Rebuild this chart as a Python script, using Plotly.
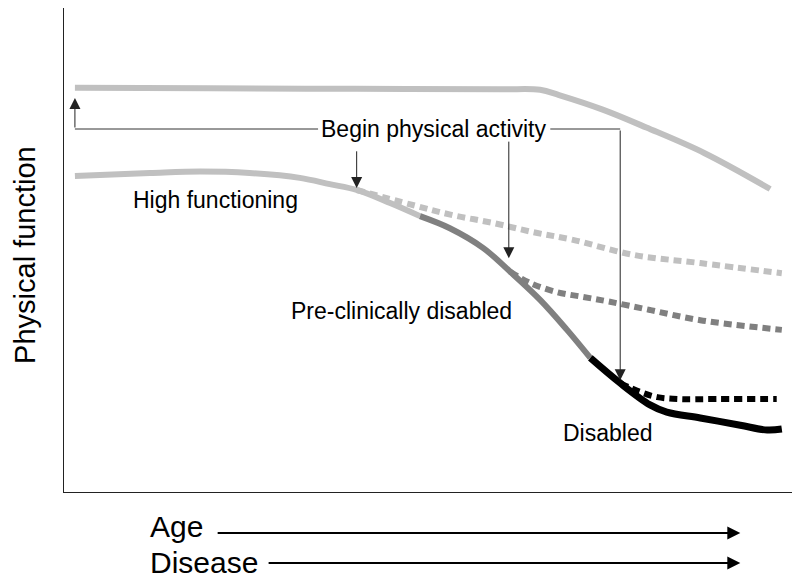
import plotly.graph_objects as go

# x: age / disease progression (0-100), y: physical function (0-100)
top_x = [1.5, 20, 40, 60, 65.4, 68, 74, 80, 88, 97]
top_y = [83.5, 83.4, 83.3, 83.2, 83.1, 82.0, 79.0, 75.3, 70.0, 62.6]

high_x = [1.5, 11.8, 18.7, 25.5, 32.4, 36.5, 40.2, 44.8, 48.9]
high_y = [65.3, 65.9, 66.2, 65.9, 64.9, 63.6, 62.4, 59.7, 57.0]

pre_x = [48.9, 53.0, 57.6, 61.3, 65.4, 69.1, 72.3]
pre_y = [57.0, 54.5, 50.4, 45.5, 39.7, 33.5, 27.7]

dis_x = [72.3, 76.4, 80.5, 82.8, 87.4, 92.9, 96.6, 98.6]
dis_y = [27.7, 22.5, 18.0, 16.5, 15.3, 13.8, 12.8, 13.0]

# trajectories after beginning physical activity
pa_high_x = [40.2, 47.9, 53.4, 58.9, 64.4, 69.9, 78.2, 87.4, 98.6]
pa_high_y = [62.4, 59.3, 57.2, 55.6, 53.7, 52.1, 49.0, 47.3, 45.2]

pa_pre_x = [61.3, 64.0, 67.7, 71.3, 75.0, 80.5, 87.4, 98.6]
pa_pre_y = [45.5, 43.2, 41.3, 40.3, 39.3, 37.6, 35.5, 33.5]

pa_dis_x = [76.4, 79.1, 81.5, 84.6, 89.7, 97.9]
pa_dis_y = [22.5, 20.7, 19.6, 19.2, 19.2, 19.2]

LIGHT = '#c0c0c0'
DARK = '#808080'
FONT = 'Arial, Liberation Sans, sans-serif'
DOT = '8px,5px'

fig = go.Figure()

def add_line(x, y, color, dash='solid', width=6):
    fig.add_trace(go.Scatter(x=x, y=y, mode='lines',
                             line=dict(color=color, width=width, dash=dash, shape='spline'),
                             hoverinfo='skip', showlegend=False))

add_line(top_x, top_y, LIGHT)
add_line(pa_high_x, pa_high_y, LIGHT, DOT)
add_line(pa_pre_x, pa_pre_y, DARK, DOT)
add_line(pa_dis_x, pa_dis_y, 'black', DOT)
add_line(high_x, high_y, LIGHT)
add_line(pre_x, pre_y, DARK)
add_line(dis_x, dis_y, 'black', width=7)

# bracket lines from the "Begin physical activity" label
fig.add_shape(type='line', x0=1.5, y0=75, x1=34.9, y1=75,
              line=dict(color='#333333', width=1))
fig.add_shape(type='line', x0=66.8, y0=75, x1=76.4, y1=75,
              line=dict(color='#333333', width=1))

def arrow(x, y, ax, ay, width=1, size=2.2):
    fig.add_annotation(x=x, y=y, ax=ax, ay=ay, xref='x', yref='y',
                       axref='x', ayref='y', text='', showarrow=True,
                       arrowhead=2, arrowsize=size, arrowwidth=width,
                       arrowcolor='#222222', standoff=0)

arrow(1.5, 81.4, 1.5, 75)
arrow(76.4, 23.1, 76.4, 75)
arrow(61.1, 48.3, 61.1, 72.7)
arrow(40.2, 62.8, 40.2, 70.7)

def label(text, x, y, size=23):
    fig.add_annotation(x=x, y=y, xref='x', yref='y', text=text, showarrow=False,
                       font=dict(family=FONT, size=size, color='black'),
                       xanchor='center', yanchor='middle')

label('Begin physical activity', 50.8, 75.0)
label('High functioning', 20.8, 60.3)
label('Pre-clinically disabled', 46.4, 37.4)
label('Disabled', 74.7, 12.2)

fig.add_annotation(x=-0.0535, y=0.49, xref='paper', yref='paper', text='Physical function',
                   textangle=-90, showarrow=False, xanchor='center', yanchor='middle',
                   font=dict(family=FONT, size=29, color='black'))

# Age / Disease arrows below the axis
for txt, tx, y_txt, x0, y_arr in [('Age', 11.5, -0.072, 20.9, -0.0847),
                                  ('Disease', 11.5, -0.1457, 27.9, -0.1467)]:
    fig.add_annotation(x=tx, y=y_txt, xref='x', yref='paper', text=txt, showarrow=False,
                       xanchor='left', yanchor='middle',
                       font=dict(family=FONT, size=30, color='black'))
    fig.add_annotation(x=92.9, y=y_arr, ax=x0, ay=0, xref='x', yref='paper',
                       axref='x', ayref='pixel', text='', showarrow=True,
                       arrowhead=2, arrowsize=1.3, arrowwidth=2,
                       arrowcolor='black', standoff=0)

fig.update_xaxes(range=[0, 100], showgrid=False, zeroline=False, showticklabels=False,
                 ticks='', showline=True, linecolor='#222222', linewidth=1)
fig.update_yaxes(range=[0, 100], showgrid=False, zeroline=False, showticklabels=False,
                 ticks='', showline=True, linecolor='#222222', linewidth=1)
# the page adds an 8px body margin, so the figure is 8px smaller than the window
fig.update_layout(width=792, height=574, margin=dict(l=56, r=8, t=0, b=90),
                  plot_bgcolor='white', paper_bgcolor='white', showlegend=False)

fig.write_html('out.html')
